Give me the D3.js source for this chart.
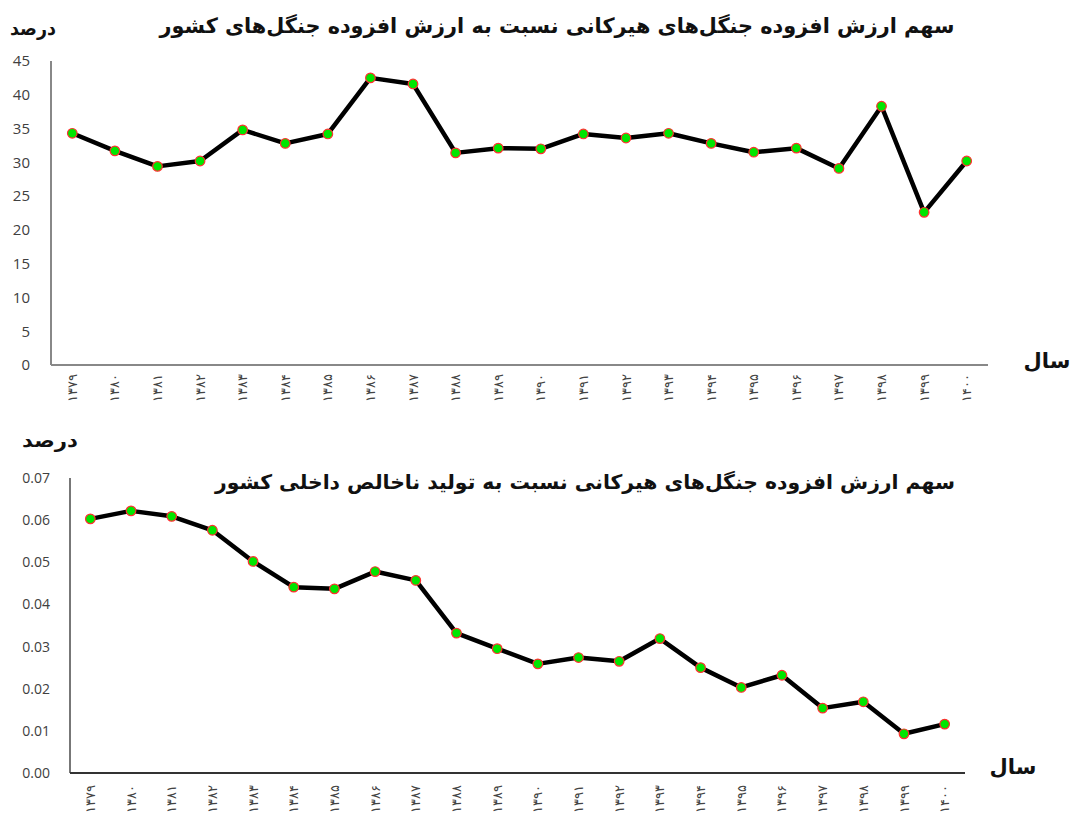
<!DOCTYPE html>
<html><head><meta charset="utf-8">
<script src="https://cdn.jsdelivr.net/npm/d3@7"></script>
<style>
html,body{margin:0;padding:0;background:#fff;}
svg{display:block;}
</style></head>
<body>
<svg id="c" width="1073" height="816"></svg>
<script>
// ---- data ----
const years = ["۱۳۷۹","۱۳۸۰","۱۳۸۱","۱۳۸۲","۱۳۸۳","۱۳۸۴","۱۳۸۵","۱۳۸۶","۱۳۸۷","۱۳۸۸","۱۳۸۹","۱۳۹۰","۱۳۹۱","۱۳۹۲","۱۳۹۳","۱۳۹۴","۱۳۹۵","۱۳۹۶","۱۳۹۷","۱۳۹۸","۱۳۹۹","۱۴۰۰"];
const shareOfForestVA = [34.3,31.7,29.4,30.2,34.8,32.8,34.2,42.5,41.6,31.4,32.1,32.0,34.2,33.6,34.3,32.8,31.5,32.1,29.1,38.3,22.6,30.2];
const shareOfGDP = [0.0603,0.0622,0.0609,0.0576,0.0502,0.0441,0.0437,0.0478,0.0457,0.0332,0.0295,0.0259,0.0274,0.0265,0.0319,0.0250,0.0203,0.0232,0.0154,0.0169,0.0093,0.0116];
const topTicks = [0,5,10,15,20,25,30,35,40,45];
const bottomTicks = [0,0.01,0.02,0.03,0.04,0.05,0.06,0.07];
const topTitle = "سهم ارزش افزوده جنگل‌های هیرکانی نسبت به ارزش افزوده جنگل‌های کشور";
const bottomTitle = "سهم ارزش افزوده جنگل‌های هیرکانی نسبت به تولید ناخالص داخلی کشور";
const yUnit = "درصد";
const xUnit = "سال";

const svg = d3.select("#c");
const arabicFont = "'DejaVu Sans', sans-serif";

function drawChart(cfg){
  const g = svg.append("g");
  const x = d3.scaleBand().domain(years).range([cfg.x0, cfg.x1]);
  const y = d3.scaleLinear().domain(cfg.domain).range([cfg.y0, cfg.y1]);
  const cx = d => x(d) + x.bandwidth()/2;

  // y tick labels
  const ya = d3.axisLeft(y).tickValues(cfg.ticks).tickSize(0).tickPadding(cfg.tickPad).tickFormat(cfg.fmt);
  const yg = g.append("g").attr("transform",`translate(${cfg.x0},0)`).call(ya);
  yg.select(".domain").remove();
  yg.selectAll("text").attr("fill","#404040").attr("font-family","'Open Sans', sans-serif").attr("font-size",cfg.tickFont);

  // x tick labels (rotated)
  const xa = d3.axisBottom(x).tickSize(0).tickPadding(0);
  const xg = g.append("g").attr("transform",`translate(0,${cfg.y0})`).call(xa);
  xg.select(".domain").remove();
  xg.selectAll("text")
    .attr("fill","#444")
    .attr("font-family",arabicFont)
    .attr("font-size",13)
    .attr("text-anchor","end")
    .attr("dy","0.35em")
    .attr("transform",`translate(0,${cfg.xLabOff}) rotate(-90)`)
    .attr("x",0).attr("y",0);

  // axis lines
  g.append("line").attr("x1",cfg.x0).attr("x2",cfg.x0).attr("y1",y(cfg.domain[1])).attr("y2",cfg.y0)
    .attr("stroke",cfg.yAxisColor).attr("stroke-width",2);
  g.append("line").attr("x1",cfg.x0).attr("x2",cfg.x1).attr("y1",cfg.y0).attr("y2",cfg.y0)
    .attr("stroke",cfg.xAxisColor).attr("stroke-width",2);

  // line
  const line = d3.line().x((d,i)=>cx(years[i])).y(d=>y(d));
  g.append("path").datum(cfg.values).attr("d",line).attr("fill","none")
    .attr("stroke","#000").attr("stroke-width",4.5).attr("stroke-linejoin","round");
  g.selectAll("circle.pt").data(cfg.values).join("circle").attr("class","pt")
    .attr("cx",(d,i)=>cx(years[i])).attr("cy",d=>y(d)).attr("r",4.8)
    .attr("fill","#00e600").attr("stroke","#ff3030").attr("stroke-width",1.2);

  // title
  g.append("text").attr("x",cfg.titleX).attr("y",cfg.titleY).attr("text-anchor","middle")
    .attr("direction","rtl").attr("font-family",arabicFont).attr("font-weight","bold")
    .attr("font-size",cfg.titleSize).attr("fill","#111")
    .attr("textLength",cfg.titleLen).attr("lengthAdjust","spacingAndGlyphs")
    .text(cfg.title);
  // y unit
  g.append("text").attr("x",cfg.unitX).attr("y",cfg.unitY).attr("text-anchor","middle")
    .attr("direction","rtl").attr("font-family",arabicFont).attr("font-weight","bold")
    .attr("font-size",19).attr("fill","#111")
    .attr("textLength",cfg.unitLen).attr("lengthAdjust","spacingAndGlyphs").text(yUnit);
  // x unit
  g.append("text").attr("x",cfg.salX).attr("y",cfg.salY).attr("text-anchor","middle")
    .attr("direction","rtl").attr("font-family",arabicFont).attr("font-weight","bold")
    .attr("font-size",21).attr("fill","#111").text(xUnit);
}

drawChart({
  x0:51, x1:988, y0:365, y1:61, domain:[0,45], ticks:topTicks, fmt:d3.format("d"),
  tickPad:21, tickFont:15, values:shareOfForestVA, xLabOff:9,
  yAxisColor:"#888", xAxisColor:"#888",
  title:topTitle, titleX:557, titleY:33, titleSize:21, titleLen:795,
  unitX:33, unitY:35, unitLen:46, salX:1047, salY:368
});

drawChart({
  x0:70, x1:965, y0:773, y1:478, domain:[0,0.07], ticks:bottomTicks, fmt:d3.format(".2f"),
  tickPad:20, tickFont:14, values:shareOfGDP, xLabOff:12,
  yAxisColor:"#777", xAxisColor:"#333",
  title:bottomTitle, titleX:585, titleY:489, titleSize:20, titleLen:740,
  unitX:50, unitY:447, unitLen:56, salX:1013, salY:774
});
</script>
</body></html>
